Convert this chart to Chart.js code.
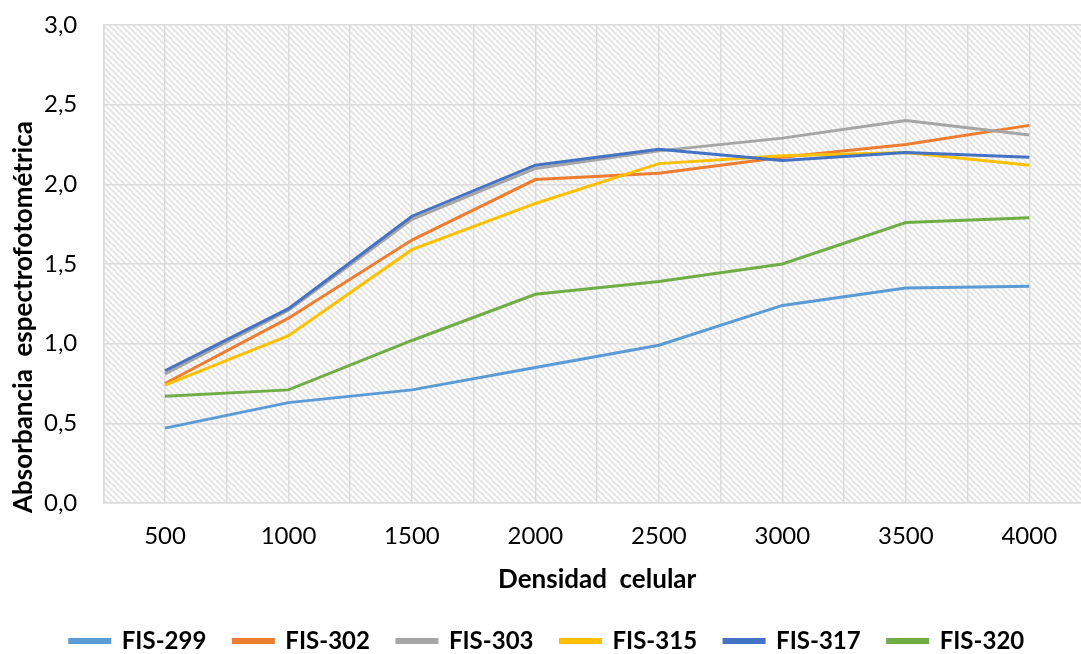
<!DOCTYPE html>
<html>
<head>
<meta charset="utf-8">
<title>Absorbancia vs densidad celular</title>
<script src="https://cdn.jsdelivr.net/npm/chart.js@4.4.0/dist/chart.umd.min.js"></script>
<style>
  html, body { margin: 0; padding: 0; background: #fff; overflow: hidden; }
  #wrap { width: 1110px; height: 654px; }
</style>
</head>
<body>
<div id="wrap"><canvas id="myChart" width="1110" height="654"></canvas></div>
<script>
// Cell densities (x axis)
const densidad = [500, 1000, 1500, 2000, 2500, 3000, 3500, 4000];

// Absorbance readings per strain
const fis299 = [0.47, 0.63, 0.71, 0.85, 0.99, 1.24, 1.35, 1.36];
const fis302 = [0.75, 1.16, 1.65, 2.03, 2.07, 2.17, 2.25, 2.37];
const fis303 = [0.81, 1.21, 1.78, 2.10, 2.21, 2.29, 2.40, 2.31];
const fis315 = [0.74, 1.05, 1.59, 1.88, 2.13, 2.18, 2.20, 2.12];
const fis317 = [0.83, 1.22, 1.80, 2.12, 2.22, 2.15, 2.20, 2.17];
const fis320 = [0.67, 0.71, 1.02, 1.31, 1.39, 1.50, 1.76, 1.79];

const seriesNames = ["FIS-299", "FIS-302", "FIS-303", "FIS-315", "FIS-317", "FIS-320"];
const seriesValues = [fis299, fis302, fis303, fis315, fis317, fis320];
const seriesColors = ["#5B9BD5", "#ED7D31", "#A5A5A5", "#FFC000", "#4472C4", "#70AD47"];

const yTicks = [0, 0.5, 1, 1.5, 2, 2.5, 3];
const yTitle = "Absorbancia  espectrofotométrica";
const xTitle = "Densidad  celular";

const FONT = "Lato, 'Open Sans', sans-serif";

// diagonal hatch used as the plot background
function makeHatch() {
  const c = document.createElement("canvas");
  c.width = 6;
  c.height = 6;
  const g = c.getContext("2d");
  g.fillStyle = "#ffffff";
  g.fillRect(0, 0, 6, 6);
  g.strokeStyle = "#e2e2e2";
  g.lineWidth = 1.8;
  g.beginPath();
  g.moveTo(-1, -1); g.lineTo(7, 7);
  g.moveTo(-4, 2); g.lineTo(2, 8);
  g.moveTo(2, -4); g.lineTo(8, 2);
  g.stroke();
  return g.createPattern(c, "repeat");
}

const hatchPlugin = {
  id: "hatch",
  beforeDraw(chart) {
    const a = chart.chartArea;
    const ctx = chart.ctx;
    ctx.save();
    ctx.fillStyle = makeHatch();
    ctx.fillRect(a.left, a.top, a.right - a.left, a.bottom - a.top);
    ctx.restore();
  }
};

// y title drawn by hand so it sits a little below the plot centre
const yTitlePlugin = {
  id: "yTitle",
  afterDraw(chart) {
    const s = chart.scales.y;
    const ctx = chart.ctx;
    ctx.save();
    ctx.translate(s.left + 24, 317);
    ctx.rotate(-Math.PI / 2);
    ctx.font = "bold 26px " + FONT;
    ctx.fillStyle = "#000";
    ctx.textAlign = "center";
    ctx.textBaseline = "middle";
    ctx.fillText(yTitle, 0, 0);
    ctx.restore();
  }
};

const datasets = seriesNames.map((name, i) => ({
  label: name,
  data: densidad.map((d, j) => ({ x: d, y: seriesValues[i][j] })),
  borderColor: seriesColors[i],
  backgroundColor: seriesColors[i],
  borderWidth: 3,
  pointRadius: 0,
  tension: 0,
  fill: false,
  order: seriesNames.length - i
}));

const ctx = document.getElementById("myChart").getContext("2d");
const chart = new Chart(ctx, {
  type: "line",
  data: { datasets: datasets },
  options: {
    responsive: false,
    animation: false,
    layout: { padding: { top: 25, right: 16, left: 0, bottom: -9 } },
    plugins: {
      tooltip: { enabled: false },
      legend: {
        position: "bottom",
        labels: {
          font: { family: FONT, size: 24, weight: "bold" },
          color: "#000",
          boxWidth: 40,
          boxHeight: 3,
          padding: 27,
          sort: (a, b) => a.datasetIndex - b.datasetIndex
        }
      }
    },
    scales: {
      x: {
        type: "linear",
        min: 250,
        max: 4250,
        afterBuildTicks: (axis) => {
          axis.ticks = [];
          for (let v = 250; v <= 4250; v += 250) axis.ticks.push({ value: v });
        },
        grid: { color: "#dcdcdc", lineWidth: 1.5, drawTicks: false },
        border: { color: "#dcdcdc", width: 1.5 },
        ticks: {
          autoSkip: false,
          maxRotation: 0,
          padding: 19,
          color: "#000",
          font: { family: FONT, size: 24 },
          callback: (v) => densidad.includes(v) ? String(v) : ""
        },
        title: {
          display: true,
          text: xTitle,
          color: "#000",
          font: { family: FONT, size: 26, weight: "bold" },
          padding: { top: -6, bottom: 7 }
        }
      },
      y: {
        min: 0,
        max: 3,
        afterBuildTicks: (axis) => {
          axis.ticks = yTicks.map(v => ({ value: v }));
        },
        // only half a label of room is needed above the top tick
        afterFit: (axis) => {
          axis.paddingTop = 10;
          axis.paddingBottom = 10;
        },
        grid: { color: "#dcdcdc", lineWidth: 1.5, drawTicks: false },
        border: { color: "#dcdcdc", width: 1.5 },
        ticks: {
          padding: 26,
          color: "#000",
          font: { family: FONT, size: 24 },
          callback: (v) => v.toFixed(1).replace(".", ",")
        },
        title: {
          // keeps room for the hand drawn title
          display: true,
          text: yTitle,
          color: "rgba(0,0,0,0)",
          font: { family: FONT, size: 10, weight: "bold" },
          padding: { top: 0, bottom: 6 }
        }
      }
    }
  },
  plugins: [hatchPlugin, yTitlePlugin]
});
</script>
</body>
</html>
